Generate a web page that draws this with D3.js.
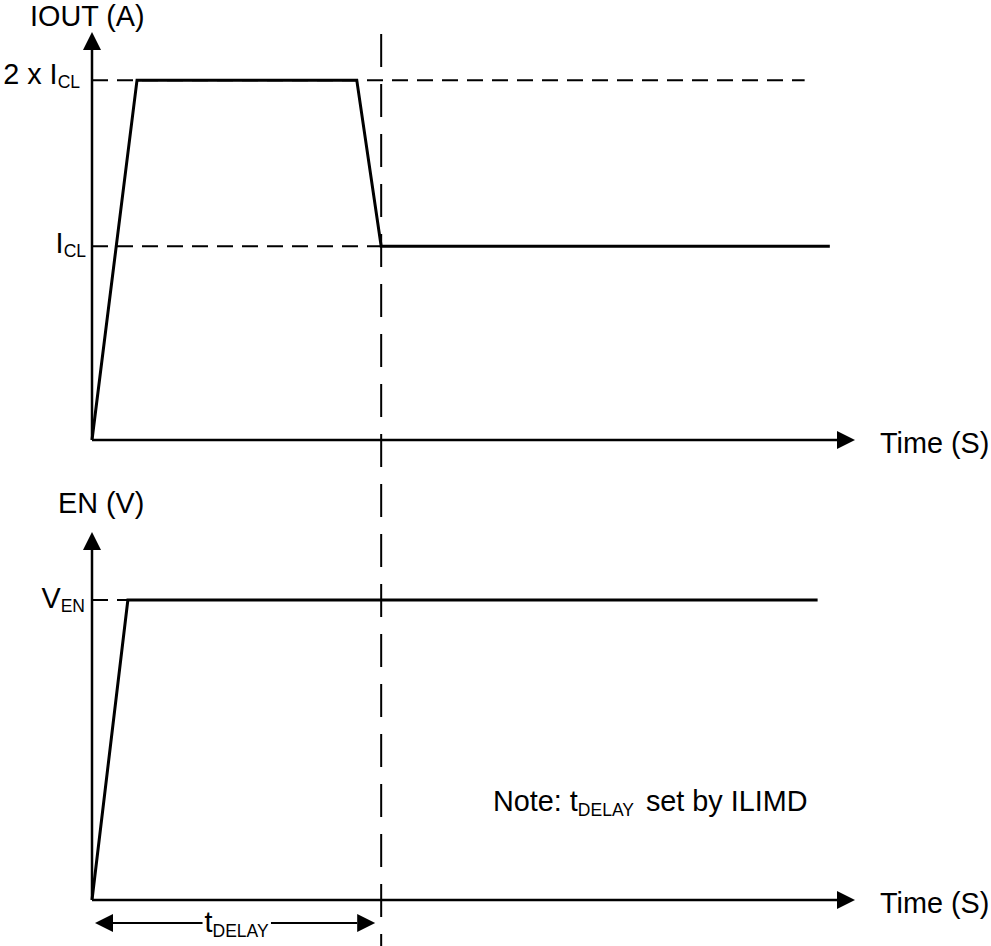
<!DOCTYPE html>
<html><head><meta charset="utf-8">
<script src="https://cdn.jsdelivr.net/npm/d3@7"></script>
<style>
body{margin:0;background:#fff}
svg{display:block}
text{font-family:"Liberation Sans",Arial,Helvetica,sans-serif;fill:#000}
</style>
</head><body>
<script>
// ---- Data (time in arbitrary units 0-100; amplitudes in % of axis height) ----
const timeDomain = [0, 100];
const ampDomain = [0, 100];
const ioutTimes = [0, 5.9, 34.7, 37.9, 96.7];
const ioutValues = [0, 88.2, 88.2, 47.5, 47.5];
const enTimes = [0, 4.7, 95.1];
const enValues = [0, 81.5, 81.5];
const ioutTickValues = [88.2, 47.5];
const ioutTickMain = ["2 x I", "I"];
const ioutTickSub = ["CL", "CL"];
const enTickValues = [81.5];
const enTickMain = ["V"];
const enTickSub = ["EN"];
const tDelay = 37.9;
const guideEnds = [93.4, 37.9, 4.7]; // extents of horizontal dashed guides
const axisTitles = ["IOUT (A)", "EN (V)"];
const timeTitle = "Time (S)";
const delayMain = "t", delaySub = "DELAY";
const noteParts = ["Note: t", "DELAY", " set by ILIMD"];

// ---- Layout ----
const W = 991, H = 946;
const FS = 28.8, SFS = 17.5;
const svg = d3.select("body").append("svg").attr("width", W).attr("height", H);
svg.append("rect").attr("width", W).attr("height", H).attr("fill", "#fff");

const x = d3.scaleLinear().domain(timeDomain).range([92, 855]);
const yTop = d3.scaleLinear().domain(ampDomain).range([440, 32]);
const yBot = d3.scaleLinear().domain(ampDomain).range([900, 532]);

const AL = 18, AH = 9; // arrow length, half width

function drawAxes(y) {
  const x0 = x(0), y0 = y(0);
  const xEnd = x.range()[1], yEnd = y.range()[1];
  svg.append("line").attr("x1", x0).attr("y1", y0).attr("x2", xEnd - AL).attr("y2", y0)
    .attr("stroke", "#000").attr("stroke-width", 2.5);
  svg.append("path").attr("d", `M${xEnd},${y0}L${xEnd - AL},${y0 - AH}L${xEnd - AL},${y0 + AH}Z`).attr("fill", "#000");
  svg.append("line").attr("x1", x0).attr("y1", y0).attr("x2", x0).attr("y2", yEnd + AL)
    .attr("stroke", "#000").attr("stroke-width", 2.5);
  svg.append("path").attr("d", `M${x0},${yEnd}L${x0 - AH},${yEnd + AL}L${x0 + AH},${yEnd + AL}Z`).attr("fill", "#000");
}

function dashedH(y, v, tEnd) {
  svg.append("line").attr("x1", x(0)).attr("x2", x(tEnd)).attr("y1", y(v)).attr("y2", y(v))
    .attr("stroke", "#000").attr("stroke-width", 2).attr("stroke-dasharray", "16,9");
}

// guides
dashedH(yTop, ioutTickValues[0], guideEnds[0]);
dashedH(yTop, ioutTickValues[1], guideEnds[1]);
dashedH(yBot, enTickValues[0], guideEnds[2]);

// vertical tDELAY line
svg.append("line").attr("x1", x(tDelay)).attr("x2", x(tDelay)).attr("y1", 34).attr("y2", H)
  .attr("stroke", "#000").attr("stroke-width", 2).attr("stroke-dasharray", "33,17");

drawAxes(yTop);
drawAxes(yBot);

// signals
const line = (y) => d3.line().x(d => x(d[0])).y(d => y(d[1]));
svg.append("path").datum(d3.zip(ioutTimes, ioutValues)).attr("d", line(yTop))
  .attr("fill", "none").attr("stroke", "#000").attr("stroke-width", 3).attr("stroke-linejoin", "miter");
svg.append("path").datum(d3.zip(enTimes, enValues)).attr("d", line(yBot))
  .attr("fill", "none").attr("stroke", "#000").attr("stroke-width", 3).attr("stroke-linejoin", "miter");

// y tick labels via d3 axes
function tickLabels(y, vals, mains, subs, offs) {
  const g = svg.append("g").attr("transform", `translate(${x(0)},0)`)
    .call(d3.axisLeft(y).tickValues(vals).tickSize(0).tickFormat(""));
  g.select(".domain").remove();
  g.selectAll(".tick text").each(function(d, i) {
    const t = d3.select(this);
    t.attr("font-size", FS).attr("font-family", null).attr("x", offs[i][0]).attr("dy", offs[i][1])
      .attr("text-anchor", "end").attr("fill", "#000");
    t.append("tspan").text(mains[i]);
    t.append("tspan").attr("font-size", SFS).attr("dy", 4).text(subs[i]);
  });
}
tickLabels(yTop, ioutTickValues, ioutTickMain, ioutTickSub, [[-12, 3], [-6, 6]]);
tickLabels(yBot, enTickValues, enTickMain, enTickSub, [[-7, 7]]);

// axis titles
svg.append("text").attr("x", 30).attr("y", 26).attr("font-size", FS).text(axisTitles[0]);
svg.append("text").attr("x", 58).attr("y", 513).attr("font-size", FS).text(axisTitles[1]);
svg.append("text").attr("x", 880).attr("y", yTop(0) + 13).attr("font-size", FS).text(timeTitle);
svg.append("text").attr("x", 880).attr("y", yBot(0) + 13).attr("font-size", FS).text(timeTitle);

// tDELAY dimension arrow
const ay = 923;
const ax0 = x(0) + 3, ax1 = x(tDelay) - 6;
svg.append("line").attr("x1", ax0 + AL).attr("x2", ax1 - AL).attr("y1", ay).attr("y2", ay)
  .attr("stroke", "#000").attr("stroke-width", 2);
svg.append("path").attr("d", `M${ax0},${ay}L${ax0 + AL},${ay - AH}L${ax0 + AL},${ay + AH}Z`).attr("fill", "#000");
svg.append("path").attr("d", `M${ax1},${ay}L${ax1 - AL},${ay - AH}L${ax1 - AL},${ay + AH}Z`).attr("fill", "#000");
const bgRect = svg.append("rect").attr("fill", "#fff");
const dt = svg.append("text").attr("x", (x(0) + x(tDelay)) / 2).attr("y", 932)
  .attr("font-size", FS).attr("text-anchor", "middle");
dt.append("tspan").text(delayMain);
dt.append("tspan").attr("font-size", SFS).attr("dy", 5).text(delaySub);
const bb = dt.node().getBBox();
bgRect.attr("x", bb.x - 2).attr("y", ay - 3).attr("width", bb.width + 4).attr("height", 6);

// note
const nt = svg.append("text").attr("x", 493).attr("y", 811).attr("font-size", FS);
nt.append("tspan").text(noteParts[0]);
nt.append("tspan").attr("font-size", SFS).attr("dy", 5).text(noteParts[1]);
nt.append("tspan").attr("dy", -5).attr("dx", 4).text(noteParts[2]);
</script>
</body></html>
